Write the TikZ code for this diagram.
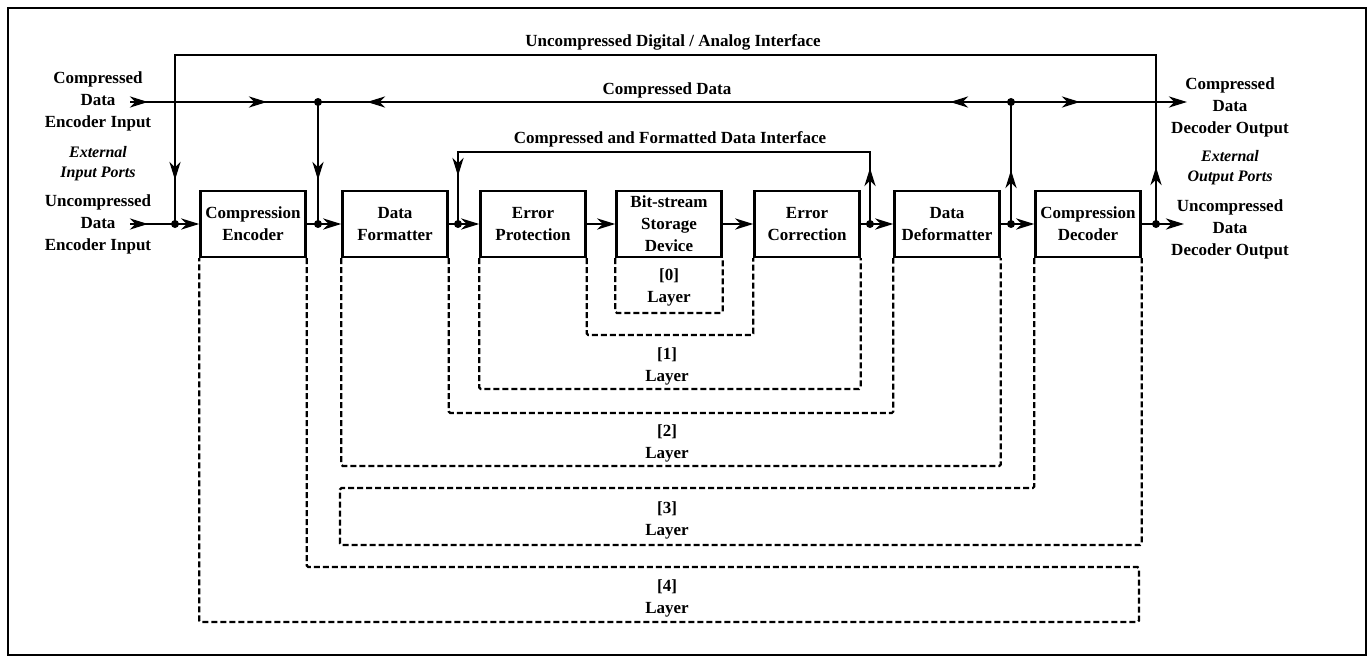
\documentclass[tikz,border=0pt]{standalone}
\usepackage{fontspec}
\setmainfont{Liberation Serif}
\usetikzlibrary{arrows.meta,decorations.markings}
\newcommand{\labelFont}[0]{\fontsize{17}{22}\selectfont\bfseries}
\newcommand{\portFont}[0]{\fontsize{16}{20}\selectfont\bfseries\itshape}

\begin{document}
\begin{tikzpicture}[x=1pt, y=-1pt]
  \tikzset{every node/.style={font=\labelFont, align=center, inner sep=0pt},
    unit/.style={draw, line width=2.4pt, minimum width=105pt, minimum height=66pt},
    conn/.style={line width=2.8pt},
    layer/.style={line width=2.2pt, dash pattern=on 6pt off 3pt, rounded corners=1.5pt},
    arr/.tip={Stealth[length=18pt, width=11pt, inset=5.5pt]},
    markat/.style={postaction={decorate, decoration={markings,
      mark=at position #1 with {\arrow{arr}}}}}}
  \useasboundingbox (0,0) rectangle (1372,658);
  \draw[line width=2pt] (8,8) rectangle (1366,655);

  \node[unit] (ce) at (253,224) {Compression\\Encoder};
  \node[unit] (df) at (395,224) {Data\\Formatter};
  \node[unit] (ep) at (533,224) {Error\\Protection};
  \node[unit] (bs) at (669,224) {Bit-stream\\Storage\\Device};
  \node[unit] (ec) at (807,224) {Error\\Correction};
  \node[unit] (dd) at (947,224) {Data\\Deformatter};
  \node[unit] (cd) at (1088,224) {Compression\\Decoder};

  \node (cinlabel) at (98,101) {Compressed\\Data\\Encoder Input};
  \node[font=\portFont] (extin) at (98,164) {External\\Input Ports};
  \node (uinlabel) at (98,224) {Uncompressed\\Data\\Encoder Input};
  \node (coutlabel) at (1230,107) {Compressed\\Data\\Decoder Output};
  \node[font=\portFont] (extout) at (1230,168) {External\\Output Ports};
  \node (uoutlabel) at (1230,229) {Uncompressed\\Data\\Decoder Output};

  \node (ifacelabel) at (673,42) {Uncompressed Digital / Analog Interface};
  \node (cdatalabel) at (667,90) {Compressed Data};
  \node (cfdilabel) at (670,139) {Compressed and Formatted Data Interface};

  \coordinate (cin) at (130,102);
  \coordinate (uin) at (130,224);
  \coordinate (jA) at (175,224);
  \coordinate (jB) at (318,102);
  \coordinate (jC) at (318,224);
  \coordinate (jD) at (458,224);
  \coordinate (jE) at (870,224);
  \coordinate (jF) at (1011,224);
  \coordinate (jG) at (1011,102);
  \coordinate (jH) at (1156,224);
  \coordinate (cout) at (1187,102);
  \coordinate (uout) at (1184,224);
  \coordinate (tl) at (175,55);
  \coordinate (tr) at (1156,55);
  \coordinate (fl) at (458,152);
  \coordinate (fr) at (870,152);

  \draw[conn, markat=57pt, markat=1275pt] (jH) -- (tr) -- (tl) -- (jA);
  \draw[conn, markat=56pt, markat=508pt] (jE) -- (fr) -- (fl) -- (jD);
  \draw[conn, markat=18pt, markat=137pt] (cin) -- (jB);
  \draw[conn, markat=61pt, markat=644pt] (jG) -- (jB);
  \draw[conn, markat=69pt, -{arr}] (jG) -- (cout);
  \draw[conn, markat=78pt] (jB) -- (jC);
  \draw[conn, markat=54pt] (jF) -- (jG);

  \draw[conn, markat=18pt] (uin) -- (jA);
  \draw[conn, -{arr}] (jA) -- (ce.west);
  \draw[conn] (ce.east) -- (jC);
  \draw[conn, -{arr}] (jC) -- (df.west);
  \draw[conn] (df.east) -- (jD);
  \draw[conn, -{arr}] (jD) -- (ep.west);
  \draw[conn, -{arr}] (ep.east) -- (bs.west);
  \draw[conn, -{arr}] (bs.east) -- (ec.west);
  \draw[conn] (ec.east) -- (jE);
  \draw[conn, -{arr}] (jE) -- (dd.west);
  \draw[conn] (dd.east) -- (jF);
  \draw[conn, -{arr}] (jF) -- (cd.west);
  \draw[conn] (cd.east) -- (jH);
  \draw[conn, -{arr}] (jH) -- (uout);
  \foreach \j in {jA,jB,jC,jD,jE,jF,jG,jH}
    \fill (\j) circle (4pt);

  \draw[layer] (bs.south west) |- (bs.south east |- 0,313) -- (bs.south east);
  \draw[layer] (ep.south east) |- (ec.south west |- 0,335) -- (ec.south west);
  \draw[layer] (ep.south west) |- (ec.south east |- 0,389) -- (ec.south east);
  \draw[layer] (df.south east) |- (dd.south west |- 0,413) -- (dd.south west);
  \draw[layer] (df.south west) |- (dd.south east |- 0,466) -- (dd.south east);
  \draw[layer] (cd.south west) |- (340,488) |- (cd.south east |- 0,545) -- (cd.south east);
  \draw[layer] (ce.south east) |- (1139,567) |- (ce.south west |- 0,622) -- (ce.south west);

  \node (layer0) at (669,287) {[0]\\Layer};
  \node (layer1) at (667,366) {[1]\\Layer};
  \node (layer2) at (667,443) {[2]\\Layer};
  \node (layer3) at (667,520) {[3]\\Layer};
  \node (layer4) at (667,598) {[4]\\Layer};
\end{tikzpicture}
\end{document}
